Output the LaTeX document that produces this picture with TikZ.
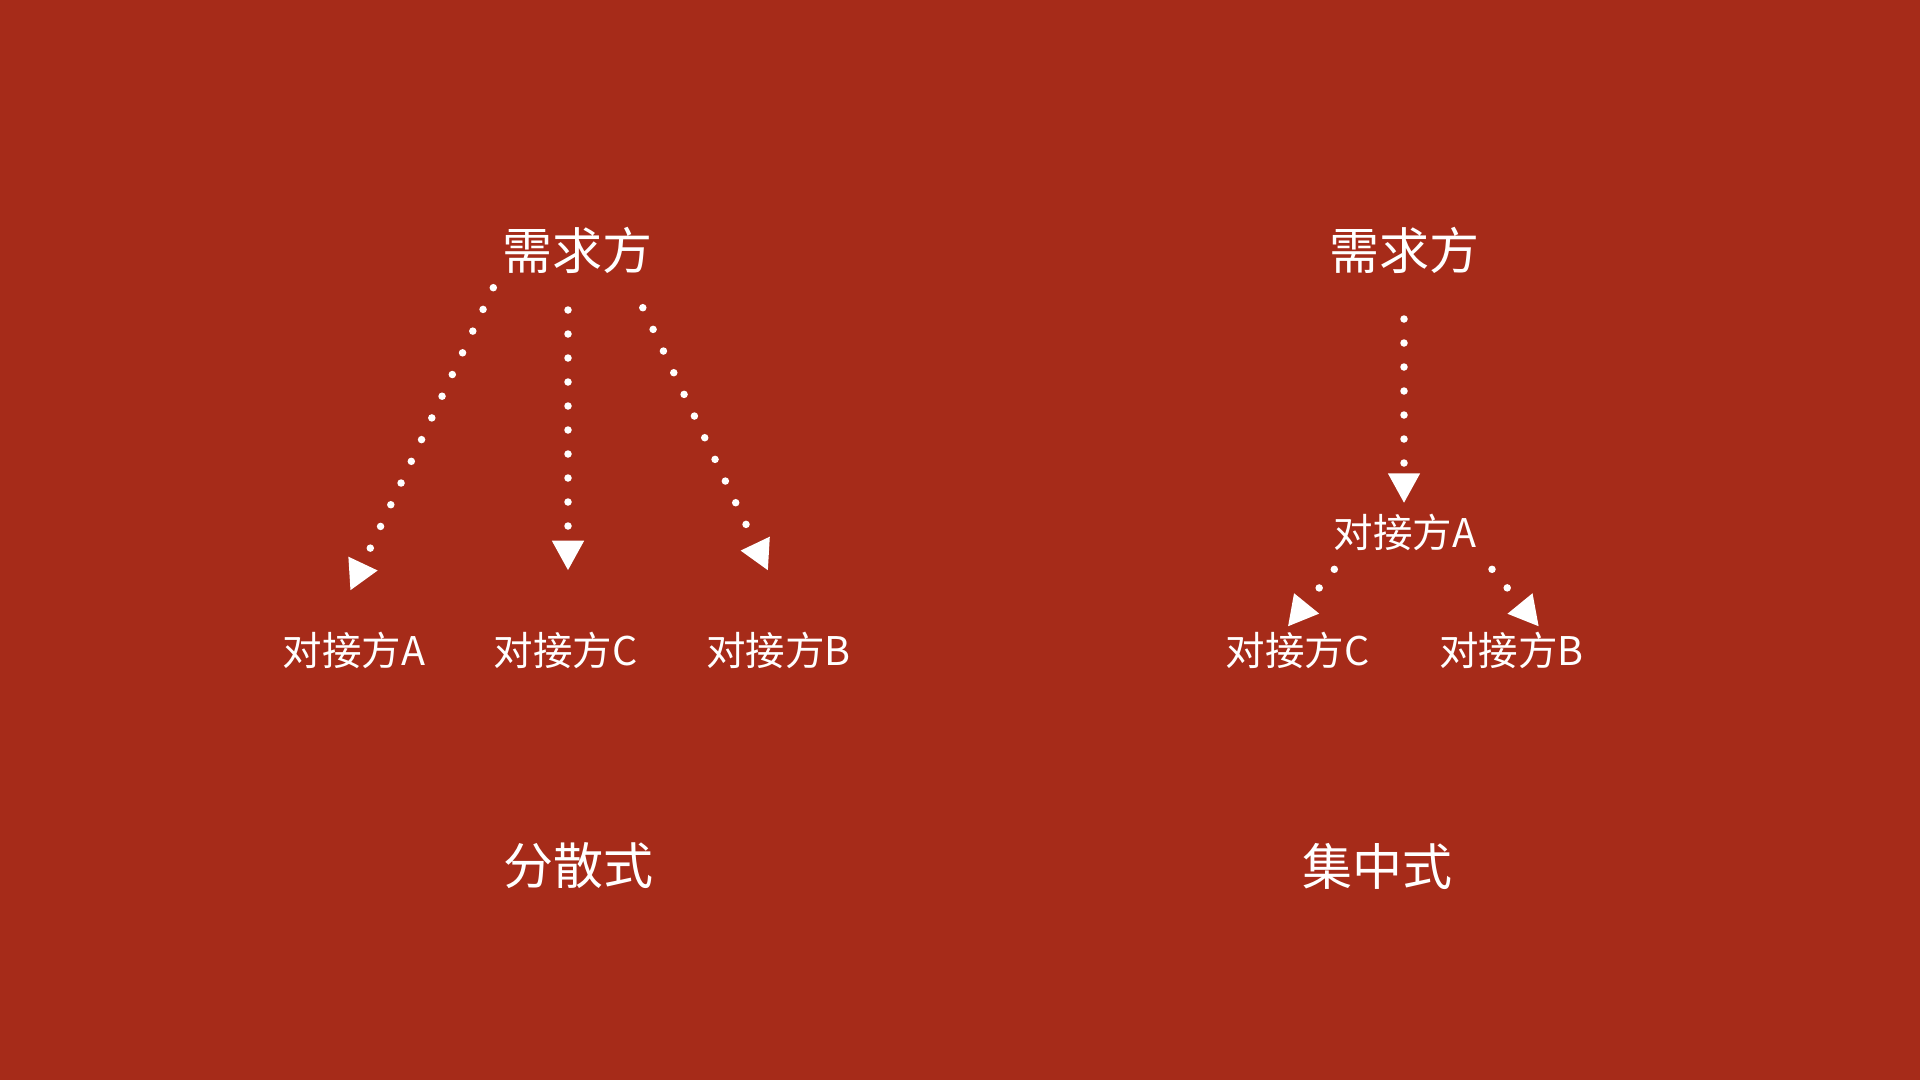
\documentclass[tikz,border=0pt]{standalone}
\usepackage{fontspec}
\setmainfont{Noto Sans CJK SC}
\usetikzlibrary{arrows.meta}
\definecolor{bg}{HTML}{A62B19}
\begin{document}
\begin{tikzpicture}[x=1pt,y=-1pt,
  lbl/.style={text=white, inner sep=0pt, font=\fontsize{39.5}{44}\selectfont},
  head/.style={text=white, inner sep=0pt, font=\fontsize{50}{54}\selectfont},
  conn/.style={draw=white, line width=7.5pt, line cap=round, dash pattern=on 0pt off 24pt, -{Triangle[length=30pt,width=30pt]}}]
\fill[bg] (0,0) rectangle (1920,1080);
\useasboundingbox (0,0) rectangle (1920,1080);
% left: distributed
\node[head] (L0) at (577,250) {需求方};
\node[lbl] (LA) at (354,650) {对接方A};
\node[lbl] (LC) at (565.5,650) {对接方C};
\node[lbl] (LB) at (778.4,650) {对接方B};
\node[head] (Lt) at (578,866) {分散式};
\coordinate (LAs) at (493.3,287.7);
\coordinate (LAt) at (350.2,590.7);
\coordinate (LCs) at (568,310);
\coordinate (LCt) at (568,570.7);
\coordinate (LBs) at (642.8,307.7);
\coordinate (LBt) at (768.1,570.7);
\draw[conn] (LAs) -- (LAt);
\draw[conn] (LCs) -- (LCt);
\draw[conn] (LBs) -- (LBt);
% right: centralized
\node[head] (R0) at (1404,250) {需求方};
\node[lbl] (RA) at (1405,532) {对接方A};
\node[lbl] (RC) at (1297.5,650) {对接方C};
\node[lbl] (RB) at (1511.7,650) {对接方B};
\node[head] (Rt) at (1377,866) {集中式};
\coordinate (RAs) at (1404,319);
\coordinate (RAt) at (1404,503.3);
\coordinate (RCs) at (1334.3,569.3);
\coordinate (RCt) at (1287.7,626.7);
\coordinate (RBs) at (1492,569.3);
\coordinate (RBt) at (1539,626.7);
\draw[conn] (RAs) -- (RAt);
\draw[conn] (RCs) -- (RCt);
\draw[conn] (RBs) -- (RBt);
\end{tikzpicture}
\end{document}
